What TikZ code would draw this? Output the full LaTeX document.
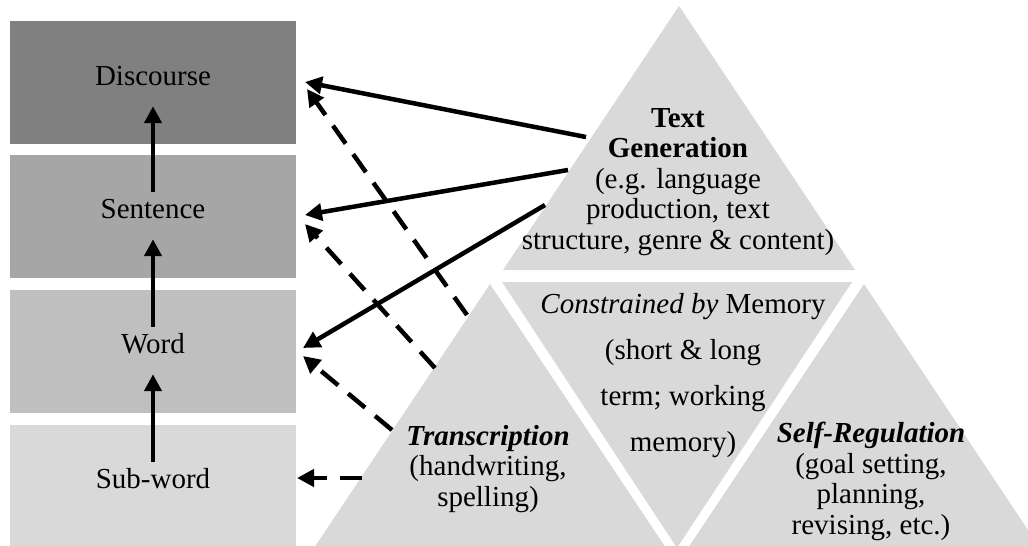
\documentclass[tikz,border=0pt]{standalone}
\usepackage{fontspec}
\setmainfont{Liberation Serif}
\usetikzlibrary{arrows.meta,calc}
\definecolor{discGray}{HTML}{808080}
\definecolor{sentGray}{HTML}{A6A6A6}
\definecolor{wordGray}{HTML}{BFBFBF}
\definecolor{subGray}{HTML}{D9D9D9}
\definecolor{triGray}{HTML}{D9D9D9}
\begin{document}
\begin{tikzpicture}[x=1pt,y=-1pt,
  levelbox/.style={draw=none, inner sep=0pt, minimum width=286pt, minimum height=123pt, anchor=north west},
  lvl/.style={font=\fontsize{29}{31}\selectfont, inner sep=0pt, text height=26pt, text depth=21pt, anchor=base},
  blk/.style={font=\fontsize{29}{30.6}\selectfont, align=center, inner sep=0pt, anchor=north},
  up/.style={line width=4.5pt, -{Triangle[length=17pt,width=17pt]}},
  feed/.style={line width=4.5pt, -{Triangle[length=17pt,width=17pt]}},
  halo/.style={white, line width=1pt, -{Triangle[length=21pt,width=22pt]}},
  feeddash/.style={line width=4.5pt, dash pattern=on 22pt off 13pt, -{Triangle[length=17pt,width=17pt]}}
]
\path[use as bounding box] (0,0) rectangle (1028,546);
\clip (0,0) rectangle (1028,546);

% levels of language
\node[levelbox, fill=discGray] (disc) at (10,21)  {};
\node[levelbox, fill=sentGray] (sent) at (10,155) {};
\node[levelbox, fill=wordGray] (word) at (10,290) {};
\node[levelbox, fill=subGray]  (sub)  at (10,425) {};

\node[lvl] (discT) at (153,85)  {Discourse};
\node[lvl] (sentT) at (153,218) {Sentence};
\node[lvl] (wordT) at (153,353) {Word};
\node[lvl] (subT)  at (153,488) {Sub-word};

\draw[up] (sentT.north) -- (discT.south);
\draw[up] (wordT.north) -- (sentT.south);
\draw[up] (subT.north)  -- (wordT.south);

% triforce of writing processes
\fill[triGray] (679,6)   -- (503,270) -- (855,270)  -- cycle;
\fill[triGray] (502,282) -- (852,282) -- (677,548)  -- cycle;
\fill[triGray] (490,284) -- (314,548) -- (666,548)  -- cycle;
\fill[triGray] (864,284) -- (688,548) -- (1040,548) -- cycle;

\node[blk] (tgT) at (678,108) {\textbf{Text}\\\textbf{Generation}\\(e.g. language\\production, text\\structure, genre \& content)};
\node[blk, font=\fontsize{29}{46}\selectfont] (memT) at (683,293) {\textit{Constrained by} Memory\\(short \& long\\term; working\\memory)};
\node[blk] (trT) at (488,425) {\textbf{\textit{Transcription}}\\(handwriting,\\spelling)};
\node[blk] (srT) at (871,422) {\textbf{\textit{Self-Regulation}}\\(goal setting,\\planning,\\revising, etc.)};

% ports on the triangle sides and beside the boxes
\coordinate (tg1) at (586,137);
\coordinate (tg2) at (568,170);
\coordinate (tg3) at (545,205);
\coordinate (tr1) at (467,315);
\coordinate (tr2) at (435,368);
\coordinate (tr3) at (392,430);
\coordinate (tr4) at (362,478);
\coordinate (discIn1) at (305,82);
\coordinate (discIn2) at (307,89);
\coordinate (sentIn1) at (305,215);
\coordinate (sentIn2) at (305,224);
\coordinate (wordIn1) at (303,348);
\coordinate (wordIn2) at (303,356);
\coordinate (subIn)   at (297,478);

\draw[feeddash] (tr1) -- (discIn2);
\draw[feeddash] (tr2) -- (sentIn2);
\draw[feeddash] (tr3) -- (wordIn2);
\draw[feeddash] (tr4) -- (subIn);

% white rim behind the solid arrowheads
\draw[halo] ($(discIn1)!22pt!(tg1)$) -- ($(discIn1)!-2pt!(tg1)$);
\draw[halo] ($(sentIn1)!22pt!(tg2)$) -- ($(sentIn1)!-2pt!(tg2)$);
\draw[halo] ($(wordIn1)!22pt!(tg3)$) -- ($(wordIn1)!-2pt!(tg3)$);

\draw[feed] (tg1) -- (discIn1);
\draw[feed] (tg2) -- (sentIn1);
\draw[feed] (tg3) -- (wordIn1);
\end{tikzpicture}
\end{document}
